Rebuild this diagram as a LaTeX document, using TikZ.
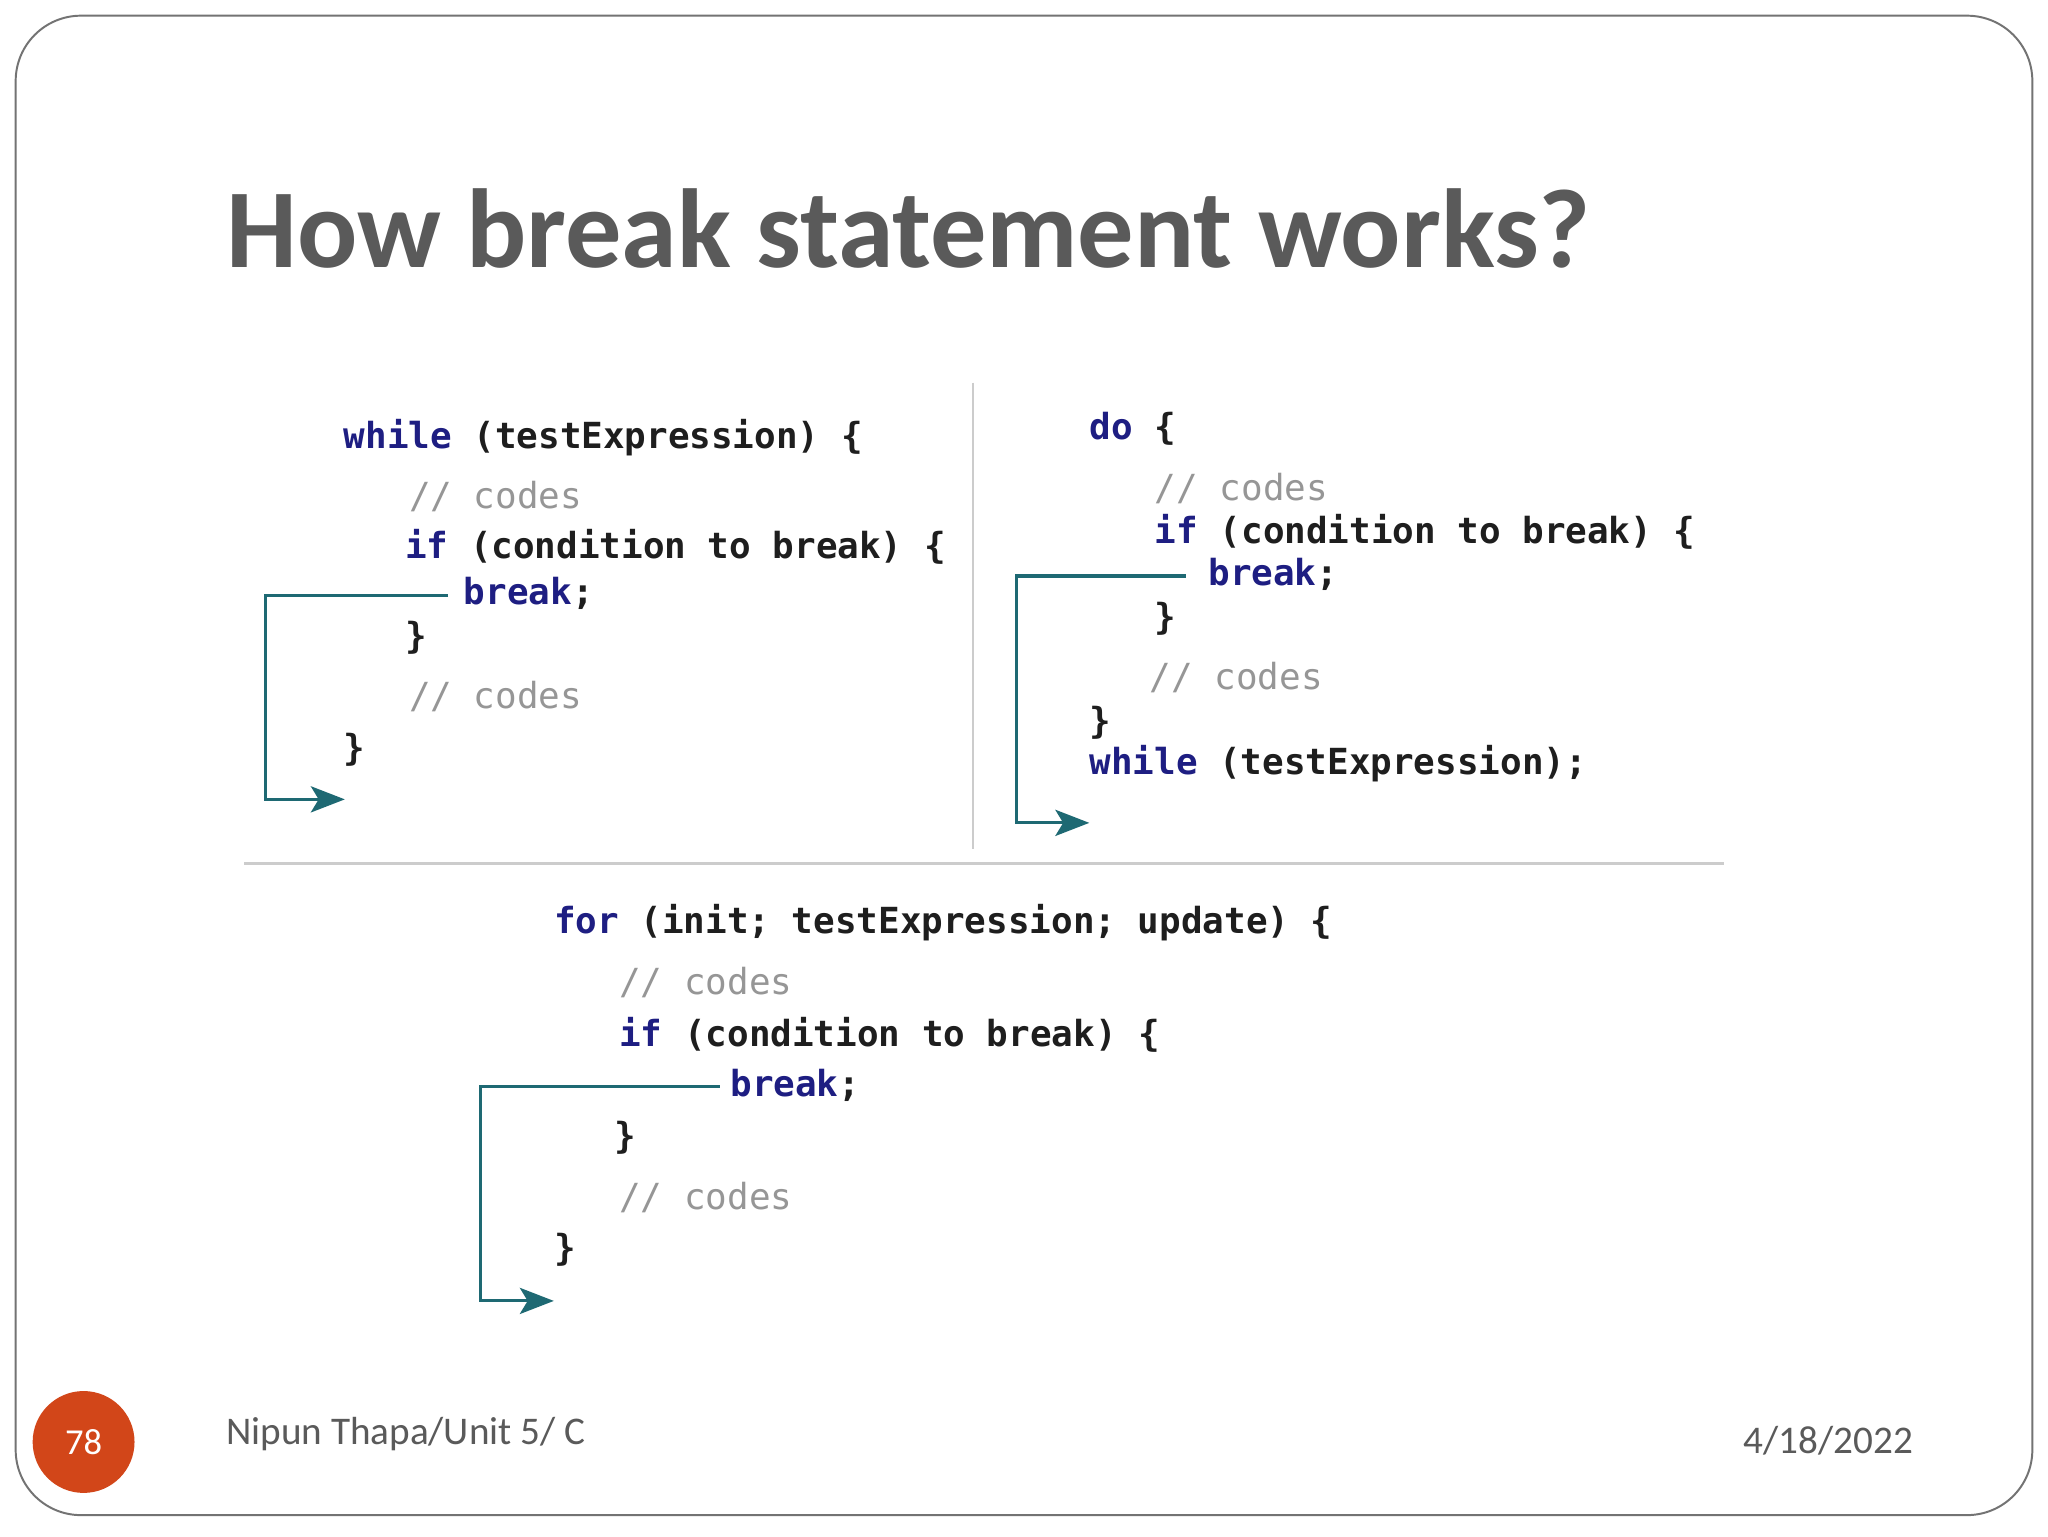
\documentclass[tikz,border=0pt]{standalone}
\usepackage{fontspec}
\setmainfont{Carlito}
\newfontfamily\codefont{DejaVu Sans Mono}
\usetikzlibrary{arrows.meta}
\definecolor{kw}{RGB}{30,30,130}
\definecolor{cm}{RGB}{150,150,150}
\definecolor{tx}{RGB}{30,30,30}
\definecolor{teal1}{RGB}{30,105,115}
\definecolor{ttl}{RGB}{90,90,90}
\definecolor{orng}{RGB}{210,70,25}
\tikzset{
 code/.style={anchor=west,inner sep=0pt,font=\codefont\bfseries\fontsize{27.5}{30}\selectfont,text=tx},
 brk/.style={draw=teal1,line width=2.4pt,-{Stealth[length=26pt,width=20pt,inset=6pt]}},
 divl/.style={draw=black!20,line width=2pt}
}
\newcommand{\kwd}[1]{\textcolor{kw}{#1}}
\newcommand{\cmt}[1]{\textcolor{cm}{\mdseries #1}}
\begin{document}
\begin{tikzpicture}[x=1pt,y=-1pt]
\useasboundingbox (0,0) rectangle (1568,1176);
\fill[white] (0,0) rectangle (1568,1176);
\draw[black!55,line width=1.5pt,rounded corners=50pt] (12,12) rectangle (1556,1160);
\node[anchor=base west,inner sep=0pt,text=ttl,font=\bfseries\fontsize{86}{90}\selectfont] (title) at (173,205) {How break statement works?};
\draw[divl] (745,293) -- (745,650);
\draw[divl] (187,661) -- (1320,661);
% left
\node[code] (w1) at (263,335) {\kwd{while} (testExpression) \{};
\node[code] (w2) at (313,380) {\cmt{// codes}};
\node[code] (w3) at (310,419) {\kwd{if} (condition to break) \{};
\node[code] (w4) at (355,454) {\kwd{break};};
\node[code] (w5) at (310,488) {\}};
\node[code] (w6) at (313,533) {\cmt{// codes}};
\node[code] (w7) at (263,574) {\}};
\coordinate (wa) at (343,456);
\coordinate (wb) at (264,612);
\draw[brk] (wa) -- (203,456) -- (203,612) -- (wb);
% right
\node[code] (d1) at (834,328) {\kwd{do} \{};
\node[code] (d2) at (884,374) {\cmt{// codes}};
\node[code] (d3) at (884,407) {\kwd{if} (condition to break) \{};
\node[code] (d4) at (925,440) {\kwd{break};};
\node[code] (d5) at (884,474) {\}};
\node[code] (d6) at (880,519) {\cmt{// codes}};
\node[code] (d7) at (834,553) {\}};
\node[code] (d8) at (834,585) {\kwd{while} (testExpression);};
\coordinate (da) at (908,441);
\coordinate (db) at (834,630);
\draw[brk] (da) -- (778,441) -- (778,630) -- (db);
% bottom
\node[code] (f1) at (424,706) {\kwd{for} (init; testExpression; update) \{};
\node[code] (f2) at (474,752) {\cmt{// codes}};
\node[code] (f3) at (474,792) {\kwd{if} (condition to break) \{};
\node[code] (f4) at (559,831) {\kwd{break};};
\node[code] (f5) at (470,871) {\}};
\node[code] (f6) at (474,917) {\cmt{// codes}};
\node[code] (f7) at (424,957) {\}};
\coordinate (fa) at (551,832);
\coordinate (fb) at (424,996);
\draw[brk] (fa) -- (368,832) -- (368,996) -- (fb);
% footer
\node[circle,fill=orng,minimum size=78pt,inner sep=0pt,text=white,font=\fontsize{28}{30}\selectfont] (pg) at (64,1104) {78};
\node[anchor=west,inner sep=0pt,text=ttl,font=\fontsize{30}{32}\selectfont] (auth) at (173,1098) {Nipun Thapa/Unit 5/ C};
\node[anchor=east,inner sep=0pt,text=ttl,font=\fontsize{30}{32}\selectfont] (date) at (1465,1103) {4/18/2022};
\end{tikzpicture}
\end{document}
